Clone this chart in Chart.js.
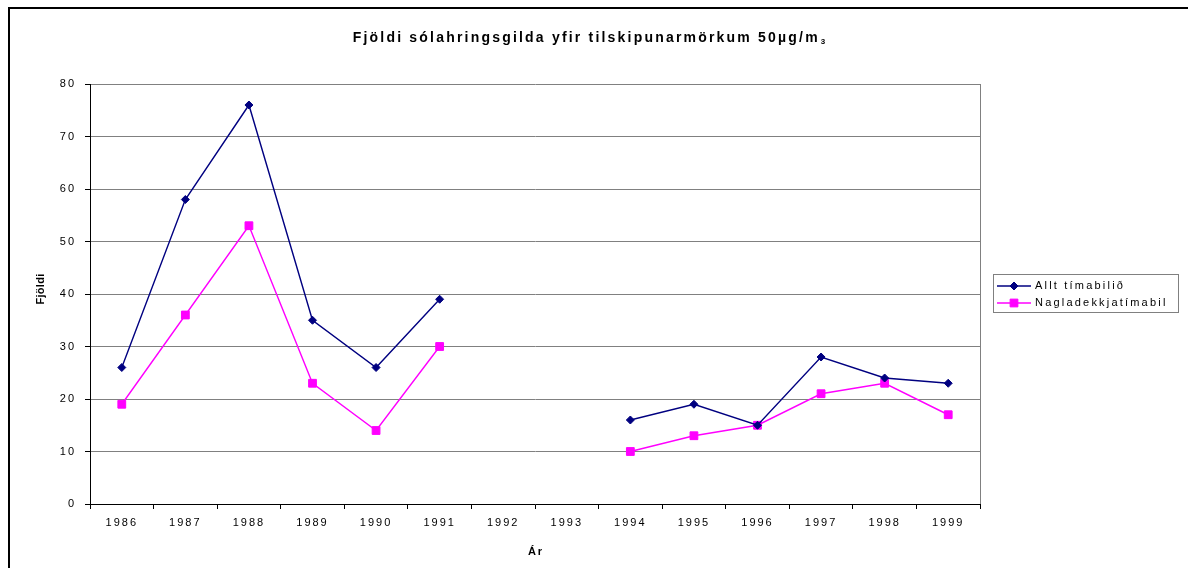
<!DOCTYPE html>
<html><head><meta charset="utf-8">
<script src="https://cdn.jsdelivr.net/npm/chart.js@4"></script>
<style>html,body{margin:0;padding:0;background:#fff;}canvas{display:block}</style>
</head><body>
<canvas id="c" width="1188" height="568"></canvas>
<script>
// ---- data ----
const years = ['1986','1987','1988','1989','1990','1991','1992','1993','1994','1995','1996','1997','1998','1999'];
const alltTimabilid = [26,58,76,35,26,39,null,null,16,19,15,28,24,23];
const nagladekkjatimabil = [19,36,53,23,14,30,null,null,10,13,15,21,23,17];
const seriesNames = ['Allt tímabilið','Nagladekkjatímabil'];
const yMin = 0, yMax = 80, yStep = 10;
const titleMain = 'Fjöldi sólahringsgilda yfir tilskipunarmörkum 50µg/m';
const titleSub = '3';
const xTitle = 'Ár';
const yTitle = 'Fjöldi';

const FONT = '"Liberation Sans", Arial, sans-serif';

const deco = {
  id: 'deco',
  beforeLayout(chart){ chart.ctx.letterSpacing = '2px'; },
  beforeDraw(chart){
    const ctx = chart.ctx;
    ctx.save();
    ctx.fillStyle = '#000';
    ctx.fillRect(8, 7, 1180, 2);
    ctx.fillRect(8, 7, 2, 561);
    ctx.restore();
    ctx.letterSpacing = '2px';
  },
  beforeDatasetsDraw(chart){
    const ctx = chart.ctx, a = chart.chartArea;
    ctx.save();
    ctx.strokeStyle = '#808080'; ctx.lineWidth = 1;
    ctx.beginPath();
    ctx.moveTo(Math.round(a.right)+0.5, a.top); ctx.lineTo(Math.round(a.right)+0.5, a.bottom);
    ctx.stroke();
    ctx.restore();
  },
  afterDraw(chart){
    const ctx = chart.ctx, a = chart.chartArea;
    ctx.save();
    ctx.fillStyle = '#000';
    // title
    ctx.letterSpacing = '2.2px';
    ctx.font = 'bold 14px ' + FONT;
    const w1 = ctx.measureText(titleMain).width;
    ctx.font = 'bold 8px ' + FONT;
    ctx.letterSpacing = '1px';
    const w2 = ctx.measureText(titleSub).width;
    let x0 = 589 - (w1 + w2) / 2;
    ctx.textBaseline = 'middle'; ctx.textAlign = 'left';
    ctx.letterSpacing = '2.2px';
    ctx.font = 'bold 14px ' + FONT;
    ctx.fillText(titleMain, x0, 38);
    ctx.letterSpacing = '1px';
    ctx.font = 'bold 8px ' + FONT;
    ctx.fillText(titleSub, x0 + w1 + 1, 42);
    // axis titles
    ctx.letterSpacing = '2px';
    ctx.font = 'bold 11px ' + FONT;
    ctx.textAlign = 'center';
    ctx.fillText(xTitle, (a.left + a.right) / 2 + 1, 552);
    ctx.save();
    ctx.translate(41, 289);
    ctx.rotate(-Math.PI / 2);
    ctx.letterSpacing = '0.3px';
    ctx.fillText(yTitle, 0, 0);
    ctx.restore();
    // legend
    ctx.strokeStyle = '#808080'; ctx.lineWidth = 1;
    ctx.strokeRect(993.5, 274.5, 185, 38);
    const rows = [286, 303];
    chart.data.datasets.forEach((ds, i) => {
      const y = rows[i];
      ctx.strokeStyle = ds.borderColor; ctx.lineWidth = ds.borderWidth;
      ctx.beginPath(); ctx.moveTo(997, y); ctx.lineTo(1031, y); ctx.stroke();
      ctx.fillStyle = ds.pointBackgroundColor; ctx.strokeStyle = ds.pointBorderColor; ctx.lineWidth = 1;
      Chart.helpers.drawPoint(ctx, {pointStyle: ds.pointStyle, radius: ds.pointRadius, rotation: 0, borderWidth: 1}, 1014, y);
      ctx.fillStyle = '#000';
      ctx.textAlign = 'left'; ctx.textBaseline = 'middle';
      ctx.font = '11px ' + FONT;
      ctx.letterSpacing = '2.2px';
      ctx.fillText(ds.label, 1035, y);
    });
    ctx.restore();
  }
};

new Chart(document.getElementById('c'), {
  type: 'line',
  data: {
    labels: years,
    datasets: [
      { label: seriesNames[0], data: alltTimabilid, borderColor: '#000080', backgroundColor: '#000080',
        pointBackgroundColor: '#000080', pointBorderColor: '#000080', borderWidth: 1.4,
        pointStyle: 'rectRot', pointRadius: 4, pointBorderWidth: 1, tension: 0, spanGaps: false },
      { label: seriesNames[1], data: nagladekkjatimabil, borderColor: '#FF00FF', backgroundColor: '#FF00FF',
        pointBackgroundColor: '#FF00FF', pointBorderColor: '#FF00FF', borderWidth: 1.4,
        pointStyle: 'rect', pointRadius: 5.5, pointBorderWidth: 1, tension: 0, spanGaps: false }
    ]
  },
  options: {
    responsive: false, animation: false, devicePixelRatio: 1,
    layout: { padding: { left: 0, top: 84, right: 208, bottom: 0 } },
    plugins: { legend: { display: false }, title: { display: false }, tooltip: { enabled: false } },
    scales: {
      x: {
        offset: true,
        grid: { display: true, drawOnChartArea: false, drawTicks: true, tickLength: 5, tickColor: '#000', offset: true },
        border: { display: true, color: '#000', width: 1 },
        ticks: { color: '#000', font: { family: FONT, size: 11 }, padding: 7, maxRotation: 0, autoSkip: false },
        afterFit(s){ s.height = 64; }
      },
      y: {
        min: yMin, max: yMax,
        grid: { color: '#808080', tickLength: 5, tickColor: '#000', lineWidth: 1 },
        border: { display: true, color: '#000', width: 1 },
        ticks: { stepSize: yStep, color: '#000', font: { family: FONT, size: 11 }, padding: 9 },
        afterFit(s){ s.width = 90; }
      }
    }
  },
  plugins: [deco]
});
</script>
</body></html>
